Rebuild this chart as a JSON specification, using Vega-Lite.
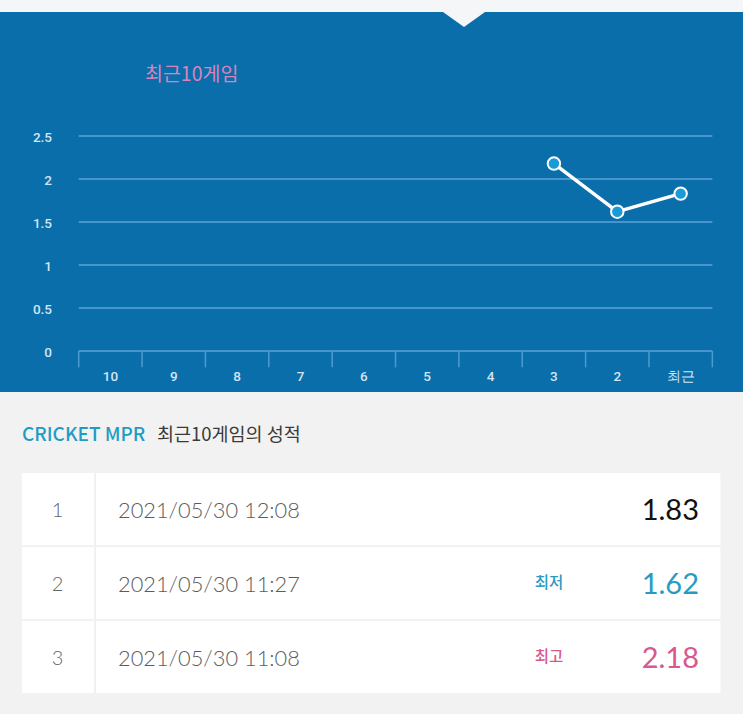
{
  "$schema": "https://vega.github.io/schema/vega-lite/v6.json",
  "background": "#f5f6f8",
  "padding": {"top": 12, "left": 0, "right": 0, "bottom": 0},
  "spacing": 0,
  "bounds": "flush",
  "config": {"view": {"stroke": null}, "axis": {"disable": true}, "font": "Roboto"},
  "datasets": {
    "games": [
      {"n": 1, "date": "2021/05/30 12:08", "mpr": 1.83, "tag": ""},
      {"n": 2, "date": "2021/05/30 11:27", "mpr": 1.62, "tag": "최저"},
      {"n": 3, "date": "2021/05/30 11:08", "mpr": 2.18, "tag": "최고"}
    ],
    "slots": [
      {"n": 10, "label": "10"}, {"n": 9, "label": "9"}, {"n": 8, "label": "8"}, {"n": 7, "label": "7"},
      {"n": 6, "label": "6"}, {"n": 5, "label": "5"}, {"n": 4, "label": "4"}, {"n": 3, "label": "3"},
      {"n": 2, "label": "2"}, {"n": 1, "label": "최근"}
    ],
    "edges": [
      {"b": 0.5}, {"b": 1.5}, {"b": 2.5}, {"b": 3.5}, {"b": 4.5}, {"b": 5.5},
      {"b": 6.5}, {"b": 7.5}, {"b": 8.5}, {"b": 9.5}, {"b": 10.5}
    ],
    "yticks": [{"v": 0}, {"v": 0.5}, {"v": 1}, {"v": 1.5}, {"v": 2}, {"v": 2.5}]
  },
  "vconcat": [
    {
      "width": 743,
      "height": 380,
      "view": {"fill": "#0a6eab", "stroke": null},
      "layer": [
        {
          "data": {"name": "yticks"},
          "mark": {"type": "rule", "color": "#4795cc", "strokeWidth": 2},
          "encoding": {
            "x": {"datum": 10.5, "type": "quantitative", "scale": {"domain": [0.016, 11.742], "reverse": true, "nice": false, "zero": false}},
            "x2": {"datum": 0.5},
            "y": {"field": "v", "type": "quantitative", "scale": {"domain": [-0.4767, 3.9419], "nice": false, "zero": false}}
          }
        },
        {
          "data": {"name": "edges"},
          "mark": {"type": "rule", "color": "#4d9ad0", "strokeWidth": 1.5},
          "encoding": {
            "x": {"field": "b", "type": "quantitative", "scale": {"domain": [0.016, 11.742], "reverse": true, "nice": false, "zero": false}},
            "y": {"datum": 0, "type": "quantitative", "scale": {"domain": [-0.4767, 3.9419], "nice": false, "zero": false}},
            "y2": {"datum": -0.19}
          }
        },
        {
          "data": {"name": "slots"},
          "mark": {"type": "text", "fontSize": 13.5, "fontWeight": 500, "color": "#d4e5f2", "baseline": "middle", "align": "center"},
          "encoding": {
            "x": {"field": "n", "type": "quantitative", "scale": {"domain": [0.016, 11.742], "reverse": true, "nice": false, "zero": false}},
            "y": {"datum": -0.302, "type": "quantitative", "scale": {"domain": [-0.4767, 3.9419], "nice": false, "zero": false}},
            "text": {"field": "label", "type": "nominal"}
          }
        },
        {
          "data": {"name": "yticks"},
          "mark": {"type": "text", "fontSize": 13.5, "fontWeight": 500, "color": "#d4e5f2", "baseline": "middle", "align": "right", "dy": 2},
          "encoding": {
            "x": {"datum": 10.921, "type": "quantitative", "scale": {"domain": [0.016, 11.742], "reverse": true, "nice": false, "zero": false}},
            "y": {"field": "v", "type": "quantitative", "scale": {"domain": [-0.4767, 3.9419], "nice": false, "zero": false}},
            "text": {"field": "v", "type": "nominal"}
          }
        },
        {
          "data": {"values": [{"t": "최근10게임"}]},
          "mark": {"type": "text", "fontSize": 19.5, "font": "Noto Sans CJK KR", "color": "#d884bb", "baseline": "middle", "align": "left"},
          "encoding": {
            "x": {"datum": 9.454, "type": "quantitative", "scale": {"domain": [0.016, 11.742], "reverse": true, "nice": false, "zero": false}},
            "y": {"datum": 3.209, "type": "quantitative", "scale": {"domain": [-0.4767, 3.9419], "nice": false, "zero": false}},
            "text": {"field": "t", "type": "nominal"}
          }
        },
        {
          "data": {"name": "games"},
          "mark": {"type": "line", "color": "#ffffff", "strokeWidth": 3.5},
          "encoding": {
            "x": {"field": "n", "type": "quantitative", "scale": {"domain": [0.016, 11.742], "reverse": true, "nice": false, "zero": false}},
            "y": {"field": "mpr", "type": "quantitative", "scale": {"domain": [-0.4767, 3.9419], "nice": false, "zero": false}}
          }
        },
        {
          "data": {"name": "games"},
          "mark": {"type": "point", "filled": true, "fill": "#1a9bd7", "stroke": "#ffffff", "strokeWidth": 2, "size": 155, "opacity": 1},
          "encoding": {
            "x": {"field": "n", "type": "quantitative", "scale": {"domain": [0.016, 11.742], "reverse": true, "nice": false, "zero": false}},
            "y": {"field": "mpr", "type": "quantitative", "scale": {"domain": [-0.4767, 3.9419], "nice": false, "zero": false}}
          }
        },
        {
          "data": {"values": [{"k": "notch"}]},
          "mark": {"type": "point", "filled": true, "fill": "#f5f6f8", "strokeWidth": 0, "size": 1764, "opacity": 1, "shape": "M-1,0L1,0L0,0.714Z"},
          "encoding": {
            "x": {"datum": 4.419, "type": "quantitative", "scale": {"domain": [0.016, 11.742], "reverse": true, "nice": false, "zero": false}},
            "y": {"datum": 3.9419, "type": "quantitative", "scale": {"domain": [-0.4767, 3.9419], "nice": false, "zero": false}}
          }
        }
      ]
    },
    {
      "width": 743,
      "height": 322,
      "view": {"fill": "#f2f2f2", "stroke": null},
      "layer": [
        {
          "data": {"name": "games"},
          "mark": {"type": "rect", "color": "#ffffff"},
          "encoding": {
            "x": {"datum": 2.961, "type": "quantitative", "scale": {"domain": [0, 100], "nice": false, "zero": false}},
            "x2": {"datum": 96.97},
            "y": {"field": "n", "type": "ordinal", "scale": {"type": "band", "domain": [0, 1, 2, 3], "range": [6, 302], "paddingInner": 0.027, "paddingOuter": 0.0135}}
          }
        },
        {
          "data": {"name": "games"},
          "mark": {"type": "rect", "color": "#ececec"},
          "encoding": {
            "x": {"datum": 12.7, "type": "quantitative", "scale": {"domain": [0, 100], "nice": false, "zero": false}},
            "x2": {"datum": 12.9},
            "y": {"field": "n", "type": "ordinal", "scale": {"type": "band", "domain": [0, 1, 2, 3], "range": [6, 302], "paddingInner": 0.027, "paddingOuter": 0.0135}}
          }
        },
        {
          "data": {"values": [{"a": "CRICKET MPR", "b": "최근10게임의 성적"}]},
          "mark": {"type": "text", "font": "Noto Sans CJK KR", "fontSize": 19, "fontWeight": 500, "color": "#1f9cc4", "align": "left", "baseline": "middle"},
          "encoding": {
            "x": {"datum": 2.96, "type": "quantitative", "scale": {"domain": [0, 100], "nice": false, "zero": false}},
            "y": {"datum": 0, "type": "ordinal", "scale": {"type": "band", "domain": [0, 1, 2, 3], "range": [6, 302], "paddingInner": 0.027, "paddingOuter": 0.0135}},
            "text": {"field": "a", "type": "nominal"}
          }
        },
        {
          "data": {"values": [{"a": "CRICKET MPR", "b": "최근10게임의 성적"}]},
          "mark": {"type": "text", "font": "Noto Sans CJK KR", "fontSize": 18.5, "color": "#3a3a3a", "align": "left", "baseline": "middle"},
          "encoding": {
            "x": {"datum": 21.13, "type": "quantitative", "scale": {"domain": [0, 100], "nice": false, "zero": false}},
            "y": {"datum": 0, "type": "ordinal", "scale": {"type": "band", "domain": [0, 1, 2, 3], "range": [6, 302], "paddingInner": 0.027, "paddingOuter": 0.0135}},
            "text": {"field": "b", "type": "nominal"}
          }
        },
        {
          "data": {"name": "games"},
          "mark": {"type": "text", "font": "Lato", "fontWeight": 300, "fontSize": 20, "color": "#666666", "align": "center", "baseline": "middle", "dy": 2},
          "encoding": {
            "x": {"datum": 7.74, "type": "quantitative", "scale": {"domain": [0, 100], "nice": false, "zero": false}},
            "y": {"field": "n", "type": "ordinal", "scale": {"type": "band", "domain": [0, 1, 2, 3], "range": [6, 302], "paddingInner": 0.027, "paddingOuter": 0.0135}},
            "text": {"field": "n", "type": "nominal"}
          }
        },
        {
          "data": {"name": "games"},
          "mark": {"type": "text", "font": "Lato", "fontWeight": 300, "fontSize": 21.8, "color": "#5c5c5c", "align": "left", "baseline": "middle", "dy": 2},
          "encoding": {
            "x": {"datum": 15.88, "type": "quantitative", "scale": {"domain": [0, 100], "nice": false, "zero": false}},
            "y": {"field": "n", "type": "ordinal", "scale": {"type": "band", "domain": [0, 1, 2, 3], "range": [6, 302], "paddingInner": 0.027, "paddingOuter": 0.0135}},
            "text": {"field": "date", "type": "nominal"}
          }
        },
        {
          "data": {"name": "games"},
          "mark": {"type": "text", "font": "Noto Sans CJK KR", "fontSize": 15.5, "fontWeight": 500, "align": "center", "baseline": "middle"},
          "encoding": {
            "x": {"datum": 73.89, "type": "quantitative", "scale": {"domain": [0, 100], "nice": false, "zero": false}},
            "y": {"field": "n", "type": "ordinal", "scale": {"type": "band", "domain": [0, 1, 2, 3], "range": [6, 302], "paddingInner": 0.027, "paddingOuter": 0.0135}},
            "text": {"field": "tag", "type": "nominal"},
            "color": {"field": "tag", "type": "nominal", "scale": {"domain": ["", "최저", "최고"], "range": ["#111111", "#2a9ac2", "#d9588f"]}, "legend": null}
          }
        },
        {
          "data": {"name": "games"},
          "mark": {"type": "text", "font": "Lato", "fontSize": 29, "align": "right", "baseline": "middle", "dy": 2},
          "encoding": {
            "x": {"datum": 94.08, "type": "quantitative", "scale": {"domain": [0, 100], "nice": false, "zero": false}},
            "y": {"field": "n", "type": "ordinal", "scale": {"type": "band", "domain": [0, 1, 2, 3], "range": [6, 302], "paddingInner": 0.027, "paddingOuter": 0.0135}},
            "text": {"field": "mpr", "type": "quantitative", "format": ".2f"},
            "color": {"field": "tag", "type": "nominal", "scale": {"domain": ["", "최저", "최고"], "range": ["#111111", "#2a9ac2", "#d9588f"]}, "legend": null}
          }
        }
      ]
    }
  ]
}
